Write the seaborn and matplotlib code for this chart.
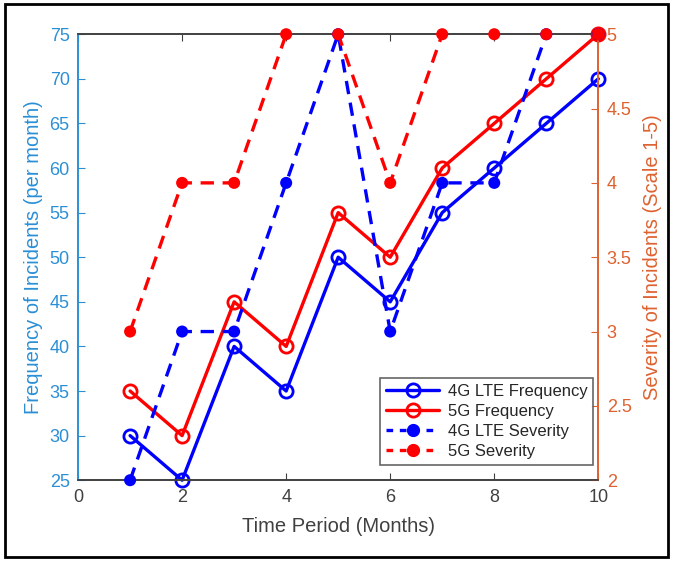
import numpy as np
import pandas as pd
import seaborn as sns
import matplotlib.pyplot as plt
from matplotlib.lines import Line2D
from matplotlib.patches import Rectangle
from matplotlib.transforms import Bbox, TransformedBbox

# data
months = [1, 2, 3, 4, 5, 6, 7, 8, 9, 10]
freq_4g = [30, 25, 40, 35, 50, 45, 55, 60, 65, 70]
freq_5g = [35, 30, 45, 40, 55, 50, 60, 65, 70, 75]
sev_4g = [2, 3, 3, 4, 5, 3, 4, 4, 5, 5]
sev_5g = [3, 4, 4, 5, 5, 4, 5, 5, 5, 5]

left_col = "#2b8fd6"
right_col = "#DE6230"
grey = "#404040"

sns.set_style("white")
plt.rcParams['font.family'] = ['Liberation Sans', 'DejaVu Sans']

fig = plt.figure(figsize=(6.73, 5.61), dpi=100)
ax = fig.add_axes([0.116, 0.144, 0.773, 0.795])
ax2 = ax.twinx()

df = pd.DataFrame({"month": months, "f4": freq_4g, "f5": freq_5g, "s4": sev_4g, "s5": sev_5g})

# frequency lines (left axis)
sns.lineplot(data=df, x="month", y="f4", ax=ax, color="blue", lw=2.4, marker="o",
             markersize=9.5, markerfacecolor="none", markeredgecolor="blue", markeredgewidth=2, clip_on=False)
sns.lineplot(data=df, x="month", y="f5", ax=ax, color="red", lw=2.4, marker="o",
             markersize=9.5, markerfacecolor="none", markeredgecolor="red", markeredgewidth=2, clip_on=False)

# severity lines (right axis), dashed; lines sitting on the top edge are hidden
sns.lineplot(data=df, x="month", y="s4", ax=ax2, color="blue", lw=2.4, dashes=False,
             linestyle=(0, (4, 2.6)))
sns.lineplot(data=df, x="month", y="s5", ax=ax2, color="red", lw=2.4, dashes=False,
             linestyle=(0, (4, 2.6)))
clipbox = TransformedBbox(Bbox([[-0.1, -0.1], [1.1, 0.993]]), ax2.transAxes)
for ln in ax2.lines:
    ln.set_clip_box(clipbox)
sns.scatterplot(data=df, x="month", y="s4", ax=ax2, color="blue", s=75, edgecolor="none", clip_on=False, zorder=3)
sns.scatterplot(data=df, x="month", y="s5", ax=ax2, color="red", s=75, edgecolor="none", clip_on=False, zorder=3)

ax.set_xlim(0, 10)
ax.set_ylim(25, 75)
ax2.set_ylim(2, 5)
ax.set_xticks([0, 2, 4, 6, 8, 10])
ax.set_yticks(np.arange(25, 80, 5))
ax2.set_yticks([2, 2.5, 3, 3.5, 4, 4.5, 5])
ax2.set_yticklabels(["2", "2.5", "3", "3.5", "4", "4.5", "5"])

ax.set_xlabel("Time Period (Months)", fontsize=14.5, color=grey, labelpad=8)
ax.set_ylabel("Frequency of Incidents (per month)", fontsize=14.5, color=left_col, labelpad=5)
ax2.set_ylabel("Severity of Incidents (Scale 1-5)", fontsize=14.5, color=right_col, labelpad=8)

ax.tick_params(axis="x", direction="in", length=5, colors=grey, labelsize=13, top=True, bottom=True, pad=6)
ax.tick_params(axis="y", direction="in", length=5, colors=left_col, labelsize=13, left=True, pad=6)
ax2.tick_params(axis="y", direction="in", length=5, colors=right_col, labelsize=13, right=True, pad=6)

for a in (ax, ax2):
    for s in a.spines.values():
        s.set_linewidth(1.2)
        s.set_color(grey)
        s.set_visible(True)
ax2.spines["left"].set_color(left_col)
ax.spines["left"].set_color(left_col)
ax2.spines["right"].set_color(right_col)
ax.spines["right"].set_color(right_col)

handles = [
    Line2D([], [], color="blue", lw=2.4, marker="o", markersize=9.5, markerfacecolor="none", markeredgewidth=2),
    Line2D([], [], color="red", lw=2.4, marker="o", markersize=9.5, markerfacecolor="none", markeredgewidth=2),
    Line2D([], [], color="blue", lw=2.4, ls=(0, (2, 2)), marker="o", markersize=8.5),
    Line2D([], [], color="red", lw=2.4, ls=(0, (2, 2)), marker="o", markersize=8.5),
]
labels = ["4G LTE Frequency", "5G Frequency", "4G LTE Severity", "5G Severity"]
leg = ax2.legend(handles, labels, loc="lower right", bbox_to_anchor=(0.99, 0.034), fontsize=12,
                 frameon=True, fancybox=False, handlelength=3.2, borderpad=0.35,
                 labelspacing=0.3, handletextpad=0.5, borderaxespad=0, labelcolor="#262626")
leg.get_frame().set_edgecolor(grey)
leg.get_frame().set_linewidth(1.2)

# outer frame
fig.patches.append(Rectangle((0.007, 0.007), 0.986, 0.986, transform=fig.transFigure,
                             fill=False, edgecolor="black", lw=2))

fig.savefig("out.png", dpi=100)
